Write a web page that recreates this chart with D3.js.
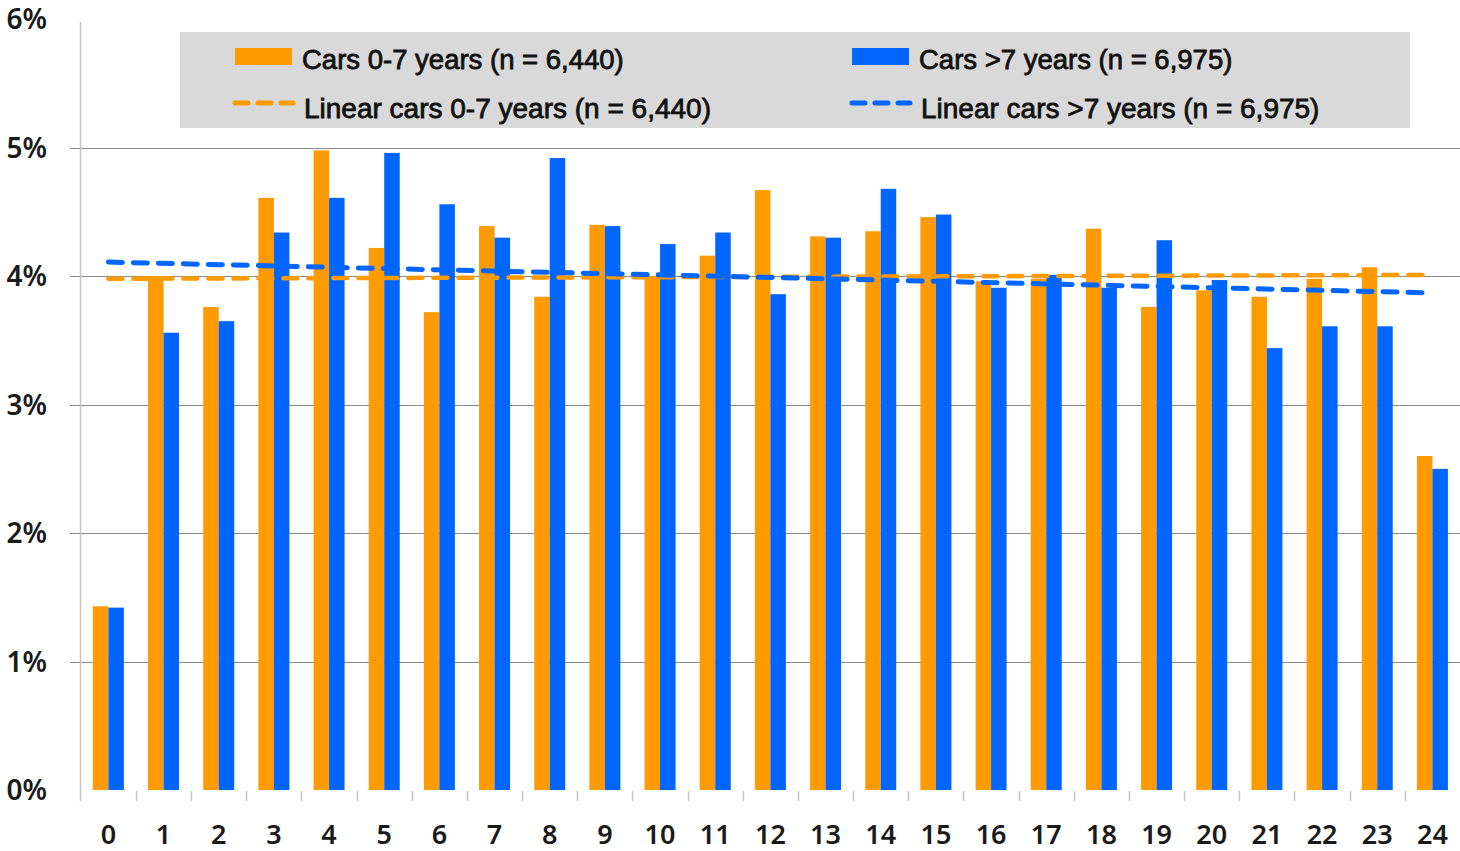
<!DOCTYPE html>
<html>
<head>
<meta charset="utf-8">
<script src="https://cdn.jsdelivr.net/npm/d3@7"></script>
<style>
    body { margin: 0; background: #fff; }
    svg { display: block; }
</style>
</head>
<body>
<div id="chart"></div>
<script>
// Values, in percent.
const ages = d3.range(0, 25).map(String);
const youngCars = [1.43, 4.00, 3.76, 4.61, 4.98, 4.22, 3.72, 4.39, 3.84, 4.40, 4.00, 4.16, 4.67,
    4.31, 4.35, 4.46, 3.96, 3.98, 4.37, 3.76, 3.89, 3.84, 3.98, 4.07, 2.60];
const oldCars = [1.42, 3.56, 3.65, 4.34, 4.61, 4.96, 4.56, 4.30, 4.92, 4.39, 4.25, 4.34, 3.86,
    4.30, 4.68, 4.48, 3.91, 4.01, 3.91, 4.28, 3.97, 3.44, 3.61, 3.61, 2.50];
// linear trend lines, value at first and last category
const youngTrend = [3.98, 4.01];
const oldTrend = [4.11, 3.87];
const yTicks = [0, 1, 2, 3, 4, 5, 6];
const seriesNames = ["Cars 0-7 years (n = 6,440)", "Cars >7 years (n = 6,975)"];
const trendNames = ["Linear cars 0-7 years (n = 6,440)", "Linear cars >7 years (n = 6,975)"];

const width = 1460;
const height = 851;
const orange = "#ff9a00";
const blue = "#0066ff";

const svg = d3.select("#chart")
    .append("svg")
    .attr("width", width)
    .attr("height", height);

const x = d3.scaleBand()
    .domain(ages)
    .range([80.8, 1460])
    .paddingInner(0)
    .paddingOuter(0);

const xSub = d3.scaleBand()
    .domain(["young", "old"])
    .range([0, x.bandwidth()])
    .paddingOuter(0.78);

const y = d3.scaleLinear()
    .domain([0, 6])
    .range([790, 19.3]);

// gridlines (no line at 0% and 6%)
svg.append("g")
    .selectAll("line")
    .data(yTicks.filter(d => d > 0 && d < 6))
    .join("line")
    .attr("x1", 70)
    .attr("x2", width)
    .attr("y1", d => Math.round(y(d)) + 0.5)
    .attr("y2", d => Math.round(y(d)) + 0.5)
    .attr("stroke", "#8a8a8a")
    .attr("stroke-width", 1);

// y axis line
svg.append("line")
    .attr("x1", 80.5).attr("x2", 80.5)
    .attr("y1", 22).attr("y2", 801)
    .attr("stroke", "#c4c4c4")
    .attr("stroke-width", 1.5);

// small ticks between categories
svg.append("g")
    .selectAll("line")
    .data(ages.slice(1))
    .join("line")
    .attr("x1", d => Math.round(x(d)) + 0.5)
    .attr("x2", d => Math.round(x(d)) + 0.5)
    .attr("y1", 791)
    .attr("y2", 801)
    .attr("stroke", "#c4c4c4")
    .attr("stroke-width", 1.5);

// y labels
svg.append("g")
    .selectAll("text")
    .data(yTicks)
    .join("text")
    .attr("x", 47)
    .attr("y", d => y(d) + 10)
    .attr("text-anchor", "end")
    .attr("font-family", "'Noto Sans', sans-serif")
    .attr("font-size", 28)
    .attr("font-weight", 600)
    .attr("fill", "#1a1a1a")
    .text(d => d + "%");

// x labels
svg.append("g")
    .selectAll("text")
    .data(ages)
    .join("text")
    .attr("x", d => x(d) + x.bandwidth() / 2)
    .attr("y", 844)
    .attr("text-anchor", "middle")
    .attr("font-family", "'Noto Sans', sans-serif")
    .attr("font-size", 27)
    .attr("font-weight", 600)
    .attr("fill", "#1a1a1a")
    .text(d => d);

// bars
const bars = svg.append("g");
bars.selectAll("rect.young")
    .data(youngCars)
    .join("rect")
    .attr("class", "young")
    .attr("x", (_, i) => x(ages[i]) + xSub("young"))
    .attr("width", xSub.bandwidth())
    .attr("y", d => y(d))
    .attr("height", d => y(0) - y(d))
    .attr("fill", orange);

bars.selectAll("rect.old")
    .data(oldCars)
    .join("rect")
    .attr("class", "old")
    .attr("x", (_, i) => x(ages[i]) + xSub("old"))
    .attr("width", xSub.bandwidth())
    .attr("y", d => y(d))
    .attr("height", d => y(0) - y(d))
    .attr("fill", blue);

// trend lines from first to last category
const ends = [ages[0], ages[ages.length - 1]];
const trendLine = d3.line()
    .x((_, i) => x(ends[i]) + x.bandwidth() / 2)
    .y(d => y(d));

svg.append("path")
    .datum(youngTrend)
    .attr("d", trendLine)
    .attr("fill", "none")
    .attr("stroke", orange)
    .attr("stroke-width", 4.5)
    .attr("stroke-linecap", "round")
    .attr("stroke-dasharray", "14 11");

svg.append("path")
    .datum(oldTrend)
    .attr("d", trendLine)
    .attr("fill", "none")
    .attr("stroke", blue)
    .attr("stroke-width", 5)
    .attr("stroke-linecap", "round")
    .attr("stroke-dasharray", "14 11");

// legend
const legend = svg.append("g");
legend.append("rect")
    .attr("x", 180).attr("y", 32)
    .attr("width", 1230).attr("height", 96)
    .attr("fill", "#d9d9d9");

const colors = [orange, blue];
const colX = [235, 852];

legend.selectAll("rect.swatch")
    .data(seriesNames)
    .join("rect")
    .attr("class", "swatch")
    .attr("x", (_, i) => colX[i])
    .attr("y", 48)
    .attr("width", 57)
    .attr("height", 17)
    .attr("fill", (_, i) => colors[i]);

legend.selectAll("line.dash")
    .data(trendNames)
    .join("line")
    .attr("class", "dash")
    .attr("x1", (_, i) => colX[i])
    .attr("x2", (_, i) => colX[i] + 58)
    .attr("y1", 103)
    .attr("y2", 103)
    .attr("stroke", (_, i) => colors[i])
    .attr("stroke-width", 5)
    .attr("stroke-linecap", "round")
    .attr("stroke-dasharray", "13 10");

legend.selectAll("text.name")
    .data(seriesNames)
    .join("text")
    .attr("class", "name")
    .attr("x", (_, i) => colX[i] + 67)
    .attr("y", 69)
    .attr("font-family", "'Liberation Sans', Arial, sans-serif")
    .attr("font-size", 27.5)
    .attr("fill", "#111")
    .attr("stroke", "#111")
    .attr("stroke-width", 0.8)
    .text(d => d);

legend.selectAll("text.trend")
    .data(trendNames)
    .join("text")
    .attr("class", "trend")
    .attr("x", (_, i) => colX[i] + 69)
    .attr("y", 118)
    .attr("font-family", "'Liberation Sans', Arial, sans-serif")
    .attr("font-size", 28)
    .attr("fill", "#111")
    .attr("stroke", "#111")
    .attr("stroke-width", 0.8)
    .text(d => d);
</script>
</body>
</html>
